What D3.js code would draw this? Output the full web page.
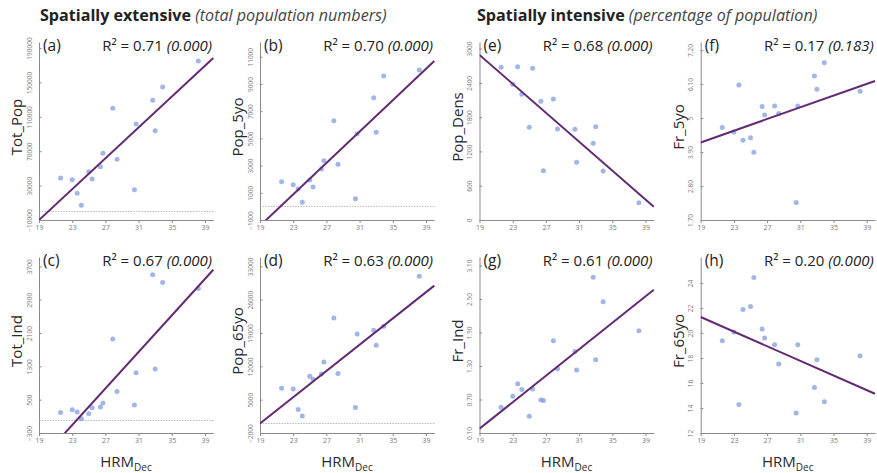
<!DOCTYPE html>
<html>
<head>
<meta charset="utf-8">
<script src="https://cdn.jsdelivr.net/npm/d3@7"></script>
<style>
  html, body { margin: 0; padding: 0; background: #fff; }
  svg { display: block; font-family: "Open Sans", sans-serif; }
</style>
</head>
<body>
<svg id="chart" width="877" height="473"></svg>
<script>
// December heat-risk metric for each of the 16 districts
const hrmDec  = [21.6, 23.0, 23.6, 24.1, 25.0, 25.4, 26.4, 26.7, 27.9, 28.4, 30.5, 30.7, 32.7, 33.0, 33.9, 38.2];

// Spatially extensive variables (totals)
const totPop  = [38800, 36900, 21000, 7100, 46200, 37700, 52000, 67600, 119900, 60600, 25200, 101600, 129200, 93800, 144650, 174900];
const pop5yo  = [1815, 1595, 1279, 301, 1940, 1426, 2749, 3359, 6299, 3094, 566, 5343, 7989, 5446, 9584, 10025];
const totInd  = [194, 259, 204, 43, 163, 307, 324, 420, 1956, 698, 372, 1147, 3499, 1236, 3314, 3170];
const pop65yo = [7387, 7240, 2914, 1570, 9907, 9300, 10390, 12910, 22150, 10474, 3334, 18790, 19567, 16417, 20407, 30907];

// Spatially intensive variables (shares / density)
const popDens = [2672, 2375, 2683, 2200, 1622, 2655, 2077, 863, 2118, 1593, 1587, 1010, 1342, 1633, 858, 303];
const fr5yo   = [4.69, 4.55, 6.07, 4.28, 4.36, 3.89, 5.37, 5.10, 5.39, 5.15, 2.27, 5.39, 6.36, 5.93, 6.79, 5.87];
const frInd   = [0.56, 0.76, 0.98, 0.88, 0.40, 0.89, 0.69, 0.68, 1.75, 1.25, 1.56, 1.23, 2.89, 1.41, 2.45, 1.93];
const fr65yo  = [19.38, 20.08, 14.29, 21.89, 22.13, 24.45, 20.32, 19.60, 19.06, 17.52, 13.60, 19.06, 15.65, 17.86, 14.50, 18.18];

// Panel order: a, b, c, d, e, f, g, h
const panelLetters = ["a", "b", "c", "d", "e", "f", "g", "h"];
const yNames       = ["Tot_Pop", "Pop_5yo", "Tot_Ind", "Pop_65yo", "Pop_Dens", "Fr_5yo", "Fr_Ind", "Fr_65yo"];
const ySeries      = [totPop, pop5yo, totInd, pop65yo, popDens, fr5yo, frInd, fr65yo];
const r2Values     = ["0.71", "0.70", "0.67", "0.63", "0.68", "0.17", "0.61", "0.20"];
const pValues      = ["0.000", "0.000", "0.000", "0.000", "0.000", "0.183", "0.000", "0.000"];

// Fitted regression line: predicted value at HRM = 19 and at HRM = 40
const fitAt19 = [-10000, -1424, -986, 0, 2888, 4.21, 0.177, 21.28];
const fitAt40 = [178400, 10687, 3619, 28954, 233, 6.20, 2.667, 15.14];

// Y axis ticks and the value at the top end of each y axis
const yTicks = [
  [-10000, 30000, 70000, 110000, 150000, 190000],
  [-1000, 1000, 3000, 5000, 7000, 9000, 11000],
  [-300, 500, 1300, 2100, 2900, 3700],
  [-2000, 5000, 12000, 19000, 26000, 33000],
  [0, 600, 1200, 1800, 2400, 3000],
  [1.7, 2.8, 3.9, 5, 6.1, 7.2],
  [0.1, 0.7, 1.3, 1.9, 2.5, 3.1],
  [12, 14, 16, 18, 20, 22, 24]
];
const yTickFormats = [d3.format("d"), d3.format("d"), d3.format("d"), d3.format("d"),
                      d3.format("d"), d => (d === 5 ? "5" : d3.format(".2f")(d)), d3.format(".2f"), d3.format("d")];
const yTopValues = [197000, 12083, 3924, 34960, 3115, 7.46, 3.252, 26.08];
const showZeroLine = [true, true, true, true, false, false, false, false];

const xTicks = [19, 23, 27, 31, 35, 39];
const xDomain = [19, 40];

// Layout
const colLeft   = [39, 260, 479.5, 700.7];
const plotWidth = 174.3;
const rowBottom = [220, 433];
const rowTop    = [42, 257];
const panelCol  = [0, 1, 0, 1, 2, 3, 2, 3];
const panelRow  = [0, 0, 1, 1, 0, 0, 1, 1];

const svg = d3.select("#chart");
const AXIS = "#8a8a8a";
const TICKTXT = "#7a7a7a";
const LINE = "#632a73";
const DOT = "#7d9ade";

// Group headings
const headings = [
  { x: 40, bold: "Spatially extensive", ital: " (total population numbers)" },
  { x: 477, bold: "Spatially intensive", ital: " (percentage of population)" }
];
headings.forEach(h => {
  const t = svg.append("text").attr("x", h.x).attr("y", 21)
    .attr("font-size", 16.1).attr("fill", "#222");
  t.append("tspan").attr("font-weight", 700).text(h.bold);
  t.append("tspan").attr("font-style", "italic").attr("fill", "#444").text(h.ital);
});

const defs = svg.append("defs");

panelLetters.forEach((letter, i) => {
  const left = colLeft[panelCol[i]];
  const bottom = rowBottom[panelRow[i]];
  const top = rowTop[panelRow[i]];

  const x = d3.scaleLinear().domain(xDomain).range([left, left + plotWidth]);
  const y = d3.scaleLinear().domain([yTicks[i][0], yTopValues[i]]).range([bottom, top]);

  const g = svg.append("g");

  // clip region for the fitted line
  defs.append("clipPath").attr("id", "clip-" + letter)
    .append("rect").attr("x", left).attr("y", top)
    .attr("width", plotWidth + 1).attr("height", bottom - top);

  // axes
  const xAxis = d3.axisBottom(x).tickValues(xTicks).tickSize(3).tickPadding(2).tickSizeOuter(0);
  const gx = g.append("g").attr("transform", `translate(0,${bottom})`).call(xAxis);
  gx.select(".domain").attr("stroke", AXIS);
  gx.selectAll(".tick line").attr("stroke", AXIS);
  gx.selectAll(".tick text").attr("fill", TICKTXT).attr("font-size", 7)
    .attr("font-family", "Open Sans, sans-serif");

  const yAxis = d3.axisLeft(y).tickValues(yTicks[i]).tickFormat(yTickFormats[i])
    .tickSize(-2.5).tickPadding(0).tickSizeOuter(0);
  const gy = g.append("g").attr("transform", `translate(${left},0)`).call(yAxis);
  gy.select(".domain").attr("stroke", AXIS);
  gy.selectAll(".tick line").attr("stroke", AXIS);
  gy.selectAll(".tick text").attr("fill", TICKTXT).attr("font-size", 6.5)
    .attr("font-family", "Open Sans, sans-serif")
    .attr("text-anchor", "middle").attr("dy", null).attr("x", null)
    .attr("transform", "translate(-10,0) rotate(-90)")
    .attr("dominant-baseline", "central");

  // dotted reference line at zero
  if (showZeroLine[i]) {
    g.append("line")
      .attr("x1", x(xDomain[0])).attr("x2", x(xDomain[1]))
      .attr("y1", y(0)).attr("y2", y(0))
      .attr("stroke", "#a5a5a5").attr("stroke-width", 0.8)
      .attr("stroke-dasharray", "1.5,1.2");
  }

  // observations
  g.append("g").selectAll("circle")
    .data(hrmDec.map((h, k) => [h, ySeries[i][k]]))
    .join("circle")
    .attr("cx", d => x(d[0])).attr("cy", d => y(d[1]))
    .attr("r", 2.5).attr("fill", DOT).attr("fill-opacity", 0.72);

  // fitted line
  g.append("path")
    .attr("clip-path", `url(#clip-${letter})`)
    .datum([[xDomain[0], fitAt19[i]], [xDomain[1], fitAt40[i]]])
    .attr("d", d3.line().x(d => x(d[0])).y(d => y(d[1])))
    .attr("fill", "none").attr("stroke", LINE).attr("stroke-width", 2);

  // panel letter
  g.append("text").attr("x", left + 4).attr("y", top + 9)
    .attr("font-size", 15.5).attr("fill", "#222").text(`(${letter})`);

  // R² and p-value
  const r = g.append("text").attr("x", left + 173).attr("y", top + 9)
    .attr("text-anchor", "end").attr("font-size", 15).attr("fill", "#222");
  r.append("tspan").text(`R² = ${r2Values[i]} `);
  r.append("tspan").attr("font-style", "italic").text(`(${pValues[i]})`);

  // y title
  const cy = (top + bottom) / 2 - 4;
  g.append("text")
    .attr("transform", `translate(${left - 23},${cy}) rotate(-90)`)
    .attr("text-anchor", "middle").attr("dominant-baseline", "central")
    .attr("font-size", 15).attr("fill", "#2a2a2a").text(yNames[i]);

  // x title on the lower row
  if (panelRow[i] === 1) {
    const xt = g.append("text")
      .attr("x", left + 87).attr("y", bottom + 34)
      .attr("text-anchor", "middle").attr("font-size", 15).attr("fill", "#2a2a2a");
    xt.append("tspan").text("HRM");
    xt.append("tspan").attr("font-size", 10).attr("dy", 4).text("Dec");
  }
});
</script>
</body>
</html>
